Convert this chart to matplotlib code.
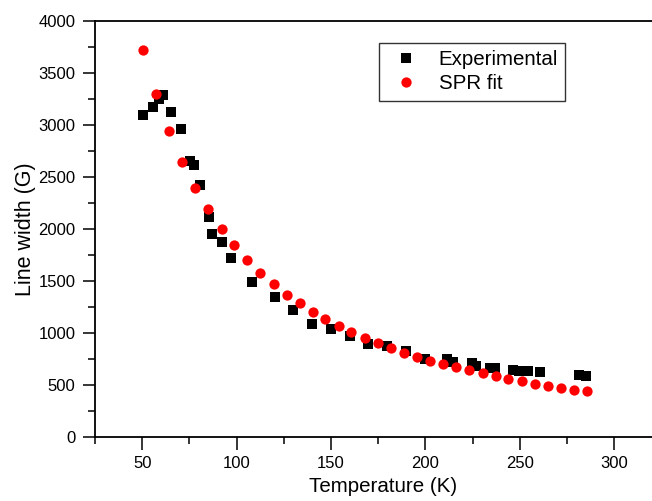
import matplotlib
matplotlib.use("Agg")
import matplotlib.pyplot as plt
from matplotlib.ticker import MultipleLocator

plt.rcParams['font.family'] = ['Liberation Sans', 'DejaVu Sans']

# ── 数据 ──────────────────────────────────────────────
exp_T = [50.2, 55.5, 59.0, 60.8, 65.5, 70.3, 75.2, 77.3, 80.5, 85.3,
         87.2, 92.3, 97.2, 108.1, 120.1, 130.1, 140.0, 149.8, 159.8, 169.8,
         179.8, 189.7, 199.6, 211.5, 214.6, 224.6, 226.7, 234.4, 236.8, 246.4,
         249.6, 254.4, 260.4, 281.3, 285.2]
exp_W = [3093, 3176, 3247, 3288, 3125, 2959, 2657, 2618, 2423, 2118,
         1949, 1878, 1724, 1490, 1343, 1218, 1089, 1038, 974, 891,
         878, 830, 750, 753, 718, 707, 686, 668, 668, 644,
         638, 632, 625, 593, 585]

fit_T = [50.2, 57.2, 64.1, 71.1, 78.2, 84.6, 92.0, 98.8, 105.7, 112.6,
         119.6, 126.5, 133.6, 140.2, 146.9, 154.0, 160.8, 167.9, 175.0, 181.9,
         188.5, 195.4, 202.5, 209.4, 216.3, 223.3, 230.2, 237.1, 243.9, 251.0,
         257.9, 264.8, 271.7, 278.6, 285.5]
fit_W = [3721, 3298, 2945, 2647, 2397, 2194, 2000, 1843, 1702, 1580,
         1468, 1368, 1284, 1205, 1135, 1067, 1010, 952, 907, 856,
         811, 772, 734, 705, 673, 641, 613, 584, 558, 536,
         513, 490, 474, 452, 439]

# ── 画布 ──────────────────────────────────────────────
fig = plt.figure(figsize=(6.52, 5.01), dpi=100)
ax = fig.add_axes([95 / 652, 64 / 501, 576 / 652, 416 / 501])

ax.plot(exp_T, exp_W, linestyle='none', marker='s', markersize=6.6,
        markeredgewidth=0, color='black', label='Experimental', zorder=3)
ax.plot(fit_T, fit_W, linestyle='none', marker='o', markersize=7.4,
        markeredgewidth=0, color='#ff0000', label='SPR fit', zorder=4)

ax.set_xlim(25, 330)
ax.set_ylim(0, 4000)
ax.set_xticks([50, 100, 150, 200, 250, 300])
ax.xaxis.set_minor_locator(MultipleLocator(25))
ax.yaxis.set_major_locator(MultipleLocator(500))
ax.yaxis.set_minor_locator(MultipleLocator(250))

ax.tick_params(which='major', direction='out', length=9, width=1.1,
               labelsize=12, pad=5)
ax.tick_params(which='minor', direction='out', length=5, width=1.1)
ax.tick_params(top=False, right=False, which='both')
for s in ax.spines.values():
    s.set_linewidth(1.3)

ax.set_xlabel('Temperature (K)', fontsize=14.8)
ax.xaxis.set_label_coords(0.5, -0.096)
ax.set_ylabel('Line width (G)', fontsize=15.5)
ax.yaxis.set_label_coords(-0.102, 0.5)

leg = ax.legend(loc='upper left', bbox_to_anchor=(379 / 652, 1 - 43 / 501),
                bbox_transform=fig.transFigure, fontsize=14.8,
                frameon=True, fancybox=False, edgecolor='black',
                borderaxespad=0, handlelength=1.9, handletextpad=0.65,
                labelspacing=0.25, borderpad=0.35)
leg.get_frame().set_linewidth(1.0)

fig.savefig('out.png', dpi=100)
